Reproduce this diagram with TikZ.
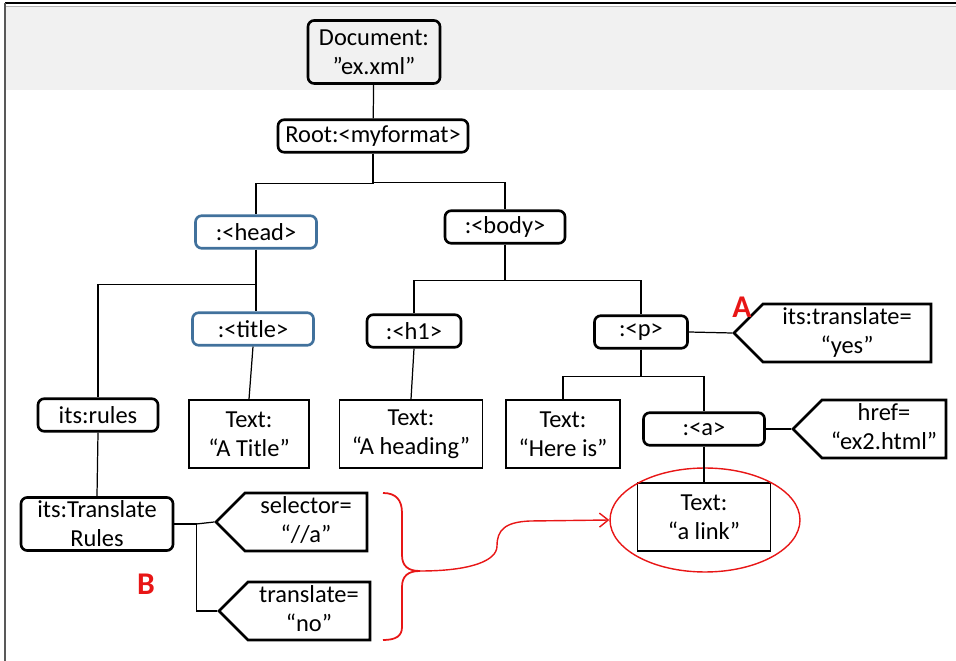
\documentclass[tikz,border=0pt]{standalone}
\usepackage{fontspec}
\setmainfont{Carlito}
\usetikzlibrary{arrows.meta}
\usetikzlibrary{shapes.geometric,shapes.symbols}

\definecolor{headblue}{RGB}{65,113,156}
\definecolor{bandgray}{RGB}{241,241,241}
\definecolor{notered}{RGB}{232,22,22}

% two centred lines, nudged a little to the left of the box middle
\newcommand{\attrlines}[1]{\begin{tabular}{@{}c@{}}#1\end{tabular}\hspace*{0.32cm}}

\begin{document}
\begin{tikzpicture}[
    x=0.02cm, y=-0.02cm, % one unit per pixel, y grows downwards
    every node/.style={
        align=center, % Center text within nodes
        inner sep=0pt,
        font=\fontsize{13.9}{16.5}\selectfont % Calibri-like text
    },
    elem/.style={draw, line width=1.5pt, rounded corners=3.5pt, minimum height=0.65cm},
    headelem/.style={elem, draw=headblue},
    textbox/.style={draw, line width=0.9pt, minimum height=1.36cm},
    attr/.style={draw, line width=1.5pt, signal, signal to=west, signal from=nowhere,
        signal pointer angle=90, minimum height=1.16cm},
    link/.style={draw, line width=0.7pt},
    redmark/.style={text=notered, font=\fontsize{18}{20}\selectfont\bfseries}
]

% frame and grey band
\useasboundingbox (0,0) rectangle (956,661);
\fill[bandgray] (5,7) rectangle (956,90);
\draw[line width=0.6pt] (5,3) -- (956,3);
\draw[gray!60, line width=1pt] (6,6.5) -- (956,6.5);
\draw[gray!70!black, line width=0.7pt] (5,3) -- (5,661);

% tree nodes
\node[elem, minimum width=2.64cm, minimum height=1.26cm] (doc) at (374,52) {Document:\\”ex.xml”};
\node[elem, minimum width=3.8cm] (root) at (373,136) {Root:<myformat>};
\node[headelem, minimum width=2.42cm] (head) at (256,232) {:<head>};
\node[elem, minimum width=2.4cm] (body) at (505,227) {:<body>};
\node[headelem, minimum width=2.42cm] (title) at (253,329) {:<title>};
\node[elem, minimum width=1.88cm] (h1) at (414,331) {:<h1>};
\node[elem, minimum width=1.86cm] (para) at (641,332) {:<p>};
\node[elem, minimum width=2.4cm] (rules) at (98,415) {its:rules};
\node[textbox, minimum width=2.4cm] (titletext) at (249,434) {Text:\\“A Title”};
\node[textbox, minimum width=2.86cm] (h1text) at (411,434) {Text:\\“A heading”};
\node[textbox, minimum width=2.28cm] (ptext) at (563,434) {Text:\\“Here is”};
\node[elem, minimum width=2.42cm] (anchor) at (704,429) {:<a>};
\node[textbox, minimum width=2.66cm] (linktext) at (704,517) {Text:\\“a link”};
\node[elem, minimum width=3.04cm, minimum height=1.06cm] (trules) at (97,524) {its:Translate\\Rules};

% attribute nodes (text width = flat part, pointer sticks out left)
\node[attr, text width=3.36cm] (yesattr) at (847,333) {\attrlines{its:translate=\\“yes”}};
\node[attr, text width=2.48cm] (hrefattr) at (884,429) {\attrlines{href=\\“ex2.html”}};
\node[attr, text width=2.44cm] (selattr) at (306,522) {\attrlines{selector=\\“//a”}};
\node[attr, text width=2.44cm] (transattr) at (309,611) {\attrlines{translate=\\“no”}};

% labels
\node[redmark] (marka) at (742,307) {A};
\node[redmark] (markb) at (146,584) {B};

% highlight round the link text
\node[ellipse, draw=notered, line width=0.8pt, minimum width=3.8cm, minimum height=2.08cm] (linkring) at (705,520) {};

% connectors
\draw[link] (doc) -- (root);
\draw[link] (root.south) -- ++(0,30) -| (head.north);
\draw[link] (root.south) -- ++(0,29) -| (body.north);
\draw[link] (head.south) -- (head.south |- title.north);
\draw[link] (head.south) ++(0,35) -| (rules.north);
\draw[link] (title.south) -- (titletext.north);
\draw[link] (body.south) -- ++(0,36) -| (h1.north);
\draw[link] (body.south) -- ++(0,36) -| (para.north);
\draw[link] (h1.south) -- (h1text.north);
\draw[link] (para.east) -- (yesattr.west);
\draw[link] (para.south) -- ++(0,27) -| (ptext.north);
\draw[link] (para.south) -- ++(0,27) -| (anchor.north);
\draw[link] (anchor.east) -- (hrefattr.west);
\draw[link] (anchor.south) -- (linktext.north);
\draw[link] (rules.south) -- (trules.north);
\draw[link] (trules.east) -- ++(22,0) -- (selattr.west);
\draw[link] (trules.east) -- ++(22,0) |- (transattr.west);

% brace and arrow to the link text
\coordinate (bracetop) at (383,493);
\coordinate (bracebot) at (383,640);
\coordinate (bracetip) at (420,571);
\draw[notered, line width=1pt] (bracetop)
    .. controls (396,493) and (402,500) .. (402,513) -- (402,555)
    .. controls (402,566) and (408,571) .. (bracetip)
    .. controls (408,571) and (402,576) .. (402,587) -- (402,627)
    .. controls (402,636) and (396,640) .. (bracebot);
\draw[notered, line width=0.8pt, -{Straight Barb[length=5pt, width=8pt]}]
    (bracetip) .. controls (470,571) and (497,561) .. (497,546)
    .. controls (497,530) and (505,522) .. (530,521) -- (linkring.west);
\end{tikzpicture}
\end{document}
